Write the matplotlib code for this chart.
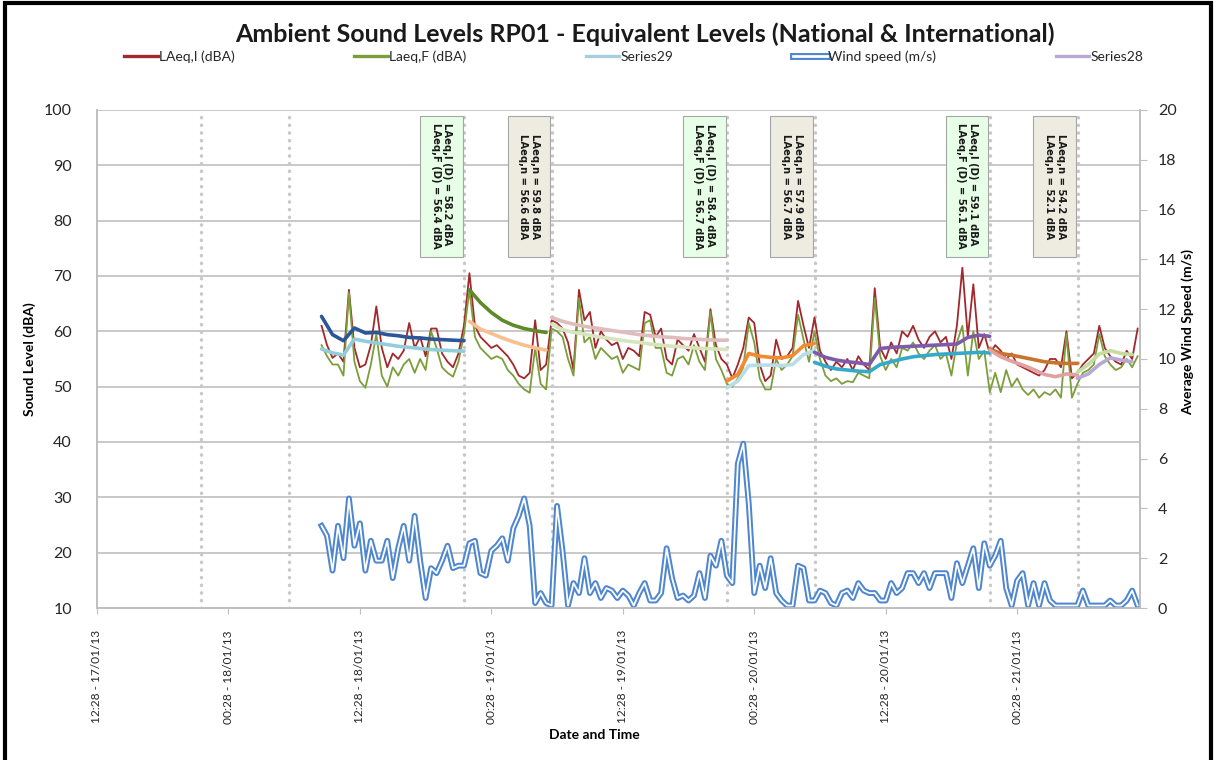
import numpy as np
import matplotlib
matplotlib.use("Agg")
import matplotlib.pyplot as plt
import matplotlib.dates as mdates
from matplotlib.patches import Rectangle
from matplotlib.lines import Line2D
from matplotlib.legend_handler import HandlerTuple
from datetime import datetime, timedelta

# ---- measurement data: 30 minute samples from 18/01/13 08:58 ----
first_sample = datetime(2013, 1, 18, 8, 58)
step = timedelta(minutes=30)

laeq_i = [
    61.0, 57.5, 55.2, 56.0, 54.5, 67.5, 57.0, 53.5, 54.0, 57.5, 64.5, 57.0, 53.5, 56.0,
    55.0, 56.5, 61.5, 57.0, 59.0, 55.5, 60.5, 60.5, 56.0, 54.5, 53.5, 56.0, 61.0,
    70.5, 61.0, 59.0, 58.0, 57.0, 57.5, 56.5, 55.5, 54.0, 52.0, 51.5, 52.5, 62.0, 53.0, 54.0,
    62.0, 61.5, 60.5, 58.0, 53.0, 67.5, 62.0, 63.5, 57.0, 60.0, 58.5, 57.5, 58.0, 55.0,
    57.0, 56.5, 55.5, 63.5, 63.0, 59.0, 60.5, 55.0, 54.0, 58.5, 57.5, 56.5, 59.5, 57.0,
    54.5, 64.0, 57.5, 55.0, 54.0,
    51.5, 54.0, 57.0, 62.5, 61.5, 54.0, 51.0, 52.0, 58.5, 55.0, 55.5, 57.0, 65.5, 61.0, 57.0, 62.5,
    56.5, 54.5, 53.0, 54.5, 53.5, 55.0, 53.0, 55.5, 54.0, 53.0, 67.8, 57.0, 55.0, 58.0,
    56.0, 60.0, 59.0, 61.0, 58.5, 57.0, 59.0, 60.0, 58.0, 59.0, 55.0, 61.0, 71.5, 59.0,
    68.5, 57.0, 59.5, 56.0,
    57.5, 56.5, 55.0, 56.0, 54.0, 53.5, 53.0, 52.5, 52.0, 53.0, 55.0, 55.0, 53.5, 60.0, 51.5, 52.5,
    54.0, 55.0, 56.0, 61.0, 57.0, 55.5, 54.5, 54.0, 56.5, 55.0, 60.5,
]
laeq_f = [
    57.5, 55.5, 54.0, 54.0, 52.0, 67.0, 54.5, 51.0, 49.8, 54.0, 59.5, 52.0, 50.0, 53.5,
    52.0, 54.0, 55.0, 52.5, 55.0, 53.0, 60.0, 57.0, 53.5, 52.5, 51.8, 54.5, 59.5,
    67.5, 59.0, 57.0, 56.0, 55.0, 55.5, 55.0, 53.0, 52.0, 50.5, 49.5, 48.9, 57.0, 50.5, 49.5,
    60.5, 60.0, 59.0, 55.0, 52.0, 66.0, 58.0, 59.0, 55.0, 57.0, 56.0, 55.0, 55.5, 52.5,
    54.0, 53.5, 53.0, 61.5, 62.0, 57.0, 57.0, 52.5, 52.0, 55.0, 55.5, 54.0, 57.5, 54.5,
    53.0, 63.5, 55.0, 53.0, 50.5,
    50.0, 51.5, 53.5, 61.5, 58.0, 51.5, 49.5, 49.5, 55.0, 53.0, 54.0, 55.5, 63.0, 58.5, 54.5, 60.0,
    55.0, 52.0, 51.0, 51.5, 50.5, 51.0, 50.8, 52.5, 52.0, 51.5, 66.0, 55.5, 53.0, 55.0,
    53.5, 57.0, 56.5, 58.0, 56.0, 55.0, 56.5, 57.5, 55.0, 56.0, 52.0, 58.0, 61.0, 52.0,
    60.0, 55.0, 56.5, 49.0,
    52.5, 49.0, 53.0, 50.0, 51.5, 49.5, 48.5, 49.5, 48.0, 49.0, 48.5, 49.5, 48.0, 59.5, 48.0, 50.5,
    52.5, 53.0, 54.0, 59.5, 55.5, 54.0, 53.0, 53.5, 55.0, 53.5, 55.5,
]
wind = [
    3.3, 2.9, 1.5, 3.3, 2.0, 4.4, 2.5, 3.4, 1.5, 2.7, 1.9, 1.9, 2.7, 1.2, 2.4, 3.3, 1.9, 3.7,
    1.9, 0.4, 1.6, 1.4, 1.9, 2.5, 1.6, 1.7, 1.7, 2.6, 2.7, 1.4, 1.3, 2.3, 2.5, 2.8, 1.9, 3.2,
    3.7, 4.4, 3.3, 0.2, 0.6, 0.2, 0.1, 4.1, 2.3, 0.1, 1.0, 0.6, 2.0, 0.6, 1.0, 0.4, 0.8, 0.7, 0.4,
    0.7, 0.5, 0.1, 0.6, 1.0, 0.3, 0.3, 0.6, 2.4, 1.2, 0.4, 0.5, 0.3, 0.5, 1.4, 0.4, 2.1, 1.7,
    2.7, 1.3, 1.0, 5.8, 6.6, 4.2, 0.6, 1.7, 0.8, 2.0, 0.6, 0.3, 0.1, 0.1, 1.7, 1.6, 0.3, 0.3,
    0.7, 0.6, 0.2, 0.1, 0.6, 0.7, 0.4, 1.0, 0.7, 0.6, 0.6, 0.3, 0.3, 1.0, 0.6, 0.8, 1.4, 1.4,
    1.0, 1.4, 0.8, 1.4, 1.4, 1.4, 0.4, 1.8, 1.0, 1.7, 2.4, 0.8, 2.6, 1.7, 2.1, 2.7, 0.8, 0.1,
    1.1, 1.4, 0.1, 1.0, 0.1, 1.0, 0.3, 0.1, 0.1, 0.1, 0.1, 0.1, 0.7, 0.1, 0.1, 0.1, 0.1, 0.3,
    0.1, 0.1, 0.3, 0.7, 0.1,
]

# ---- running equivalent levels per period (hourly), sample index where each starts ----
day1_i = [62.7, 59.4, 58.3, 60.6, 59.7, 59.8, 59.4, 59.2, 58.9, 58.8, 58.6, 58.5, 58.4, 58.3]
day1_f = [56.8, 56.1, 55.7, 58.6, 58.2, 57.9, 57.6, 57.3, 57.1, 56.9, 56.7, 56.6, 56.5, 56.4]
night1_i = [67.5, 65.2, 63.4, 62.0, 61.1, 60.5, 60.1, 59.8]
night1_f = [61.8, 60.4, 59.6, 58.8, 58.1, 57.5, 57.0, 56.6]
day2_i = [62.5, 61.8, 61.3, 60.9, 60.6, 60.3, 60.0, 59.7, 59.4, 59.2, 59.0, 58.9, 58.7,
          58.6, 58.5, 58.4, 58.4]
day2_f = [61.3, 60.3, 59.8, 59.5, 59.1, 58.8, 58.5, 58.2, 58.0, 57.7, 57.5, 57.3, 57.2,
          57.0, 56.9, 56.8, 56.7]
night2_i = [51.0, 52.2, 56.0, 55.5, 55.3, 55.2, 55.6, 57.4, 57.8]
night2_f = [49.8, 51.0, 53.8, 53.9, 53.9, 53.8, 54.0, 55.8, 56.5]
day3_i = [56.2, 55.3, 54.8, 54.5, 54.3, 54.0, 56.9, 57.1, 57.2, 57.3, 57.4, 57.5, 57.6,
          57.7, 58.9, 59.3, 59.1]
day3_f = [54.4, 53.7, 53.2, 53.0, 52.8, 52.7, 54.0, 54.5, 55.0, 55.4, 55.6, 55.8, 55.9,
          56.0, 56.1, 56.2, 56.1]
night3_i = [56.8, 56.0, 55.7, 55.3, 54.9, 54.5, 54.3, 54.2, 54.2]
night3_f = [56.6, 55.4, 54.6, 53.9, 53.1, 52.2, 51.8, 52.3, 52.1]
day4_i = [52.6, 54.0, 55.9, 56.5, 56.0, 55.8]
day4_f = [51.5, 52.3, 54.0, 55.2, 54.8, 54.5]

curve_values = [day1_i, day1_f, night1_i, night1_f, day2_i, day2_f, night2_i, night2_f,
                day3_i, day3_f, night3_i, night3_f, day4_i, day4_f]
curve_start = [0, 0, 27, 27, 42, 42, 74, 74, 90, 90, 122, 122, 138, 138]
curve_colors = ['#2b5797', '#92cddc', '#5f8a2a', '#fabf8f', '#e0bcbc', '#d7e4bd',
                '#f28a30', '#b7dde8', '#7f5aa8', '#34a9c9', '#c8742c', '#e3a0a0',
                '#c3dca0', '#b8a8d4']

# ---- period summary boxes ----
box_text = [
    'LAeq,I (D) = 58.2 dBA\nLAeq,F (D) = 56.4 dBA',
    'LAeq,n = 59.8 dBA\nLAeq,n = 56.6 dBA',
    'LAeq,I (D) = 58.4 dBA\nLAeq,F (D) = 56.7 dBA',
    'LAeq,n = 57.9 dBA\nLAeq,n = 56.7 dBA',
    'LAeq,I (D) = 59.1 dBA\nLAeq,F (D) = 56.1 dBA',
    'LAeq,n = 54.2 dBA\nLAeq,n = 52.1 dBA',
]
box_end = [datetime(2013, 1, 18, 22, 0), datetime(2013, 1, 19, 6, 0),
           datetime(2013, 1, 19, 22, 0), datetime(2013, 1, 20, 6, 0),
           datetime(2013, 1, 20, 22, 0), datetime(2013, 1, 21, 6, 0)]

# night period boundaries (22:00 and 06:00)
period_edges = [datetime(2013, 1, d, 22, 0) for d in (17, 18, 19, 20)] + \
               [datetime(2013, 1, d, 6, 0) for d in (18, 19, 20, 21)]

axis_start = datetime(2013, 1, 17, 12, 28)
axis_end = axis_start + timedelta(hours=95.2)
x_ticks = [axis_start + timedelta(hours=12 * i) for i in range(8)]

times = [first_sample + step * i for i in range(len(laeq_i))]

plt.rcParams['font.family'] = ['Lato', 'DejaVu Sans']
fig = plt.figure(figsize=(12.14, 7.6), dpi=100)
ax = fig.add_axes([0.0799, 0.2, 0.859, 0.6553])
ax2 = ax.twinx()

grid_c = '#bfbfbf'
ax.set_ylim(10, 100)
ax.set_yticks(range(10, 101, 10))
ax.set_xlim(axis_start, axis_end)
for v in range(20, 101, 10):
    ax.axhline(v, color=grid_c, lw=1.2, zorder=0)
for e in period_edges:
    ax.axvline(e, color='#c8c8c8', lw=2.4, ls=(0, (0.1, 2.2)), dash_capstyle='round', zorder=0)

ax.plot(times, laeq_i, color='#a1282c', lw=1.3, zorder=2)
ax.plot(times, laeq_f, color='#7b9e3a', lw=1.3, zorder=3)

for vals, s, c in zip(curve_values, curve_start, curve_colors):
    ct = [first_sample + step * (s + 2 * j) for j in range(len(vals))]
    ax.plot(ct, vals, color=c, lw=2.6, zorder=4, solid_capstyle='round')

# summary boxes
box_w = timedelta(hours=3.9)
for n, (txt, end) in enumerate(zip(box_text, box_end)):
    fc = '#e6ffe6' if n % 2 == 0 else '#eeece1'
    x1 = mdates.date2num(end - timedelta(hours=0.15))
    x0 = x1 - box_w / timedelta(days=1)
    ax.add_patch(Rectangle((x0, 73.4), x1 - x0, 25.6, facecolor=fc, edgecolor='#a6a6a6',
                           lw=0.8, zorder=6))
    ax.text((x0 + x1) / 2, 86.2, txt, rotation=270, ha='center', va='center',
            multialignment='left', fontsize=7.2, fontweight='bold', family='DejaVu Sans',
            color='#1a1a1a', zorder=7, linespacing=1.2)

# wind speed, drawn as a hollow double line
ax2.set_ylim(0, 20)
ax2.set_yticks(range(0, 21, 2))
ax2.plot(times, wind, color='#4f86d0', lw=4.2, zorder=2, solid_joinstyle='round')
ax2.plot(times, wind, color='white', lw=1.3, zorder=3, solid_joinstyle='round')

ax.xaxis.set_major_locator(plt.FixedLocator(mdates.date2num(x_ticks)))
ax.xaxis.set_major_formatter(mdates.DateFormatter('%H:%M - %d/%m/%y'))
ax.tick_params(axis='x', rotation=90, labelsize=8.6, length=4, color=grid_c, pad=12,
               labelcolor='#262626')
ax.tick_params(axis='y', length=0, labelsize=11.5, pad=18, labelcolor='#262626')
ax2.tick_params(axis='y', length=5, color=grid_c, labelsize=11.5, pad=8, labelcolor='#262626')

for a in (ax, ax2):
    a.spines['top'].set_visible(False)
    for side in ('left', 'bottom', 'right'):
        a.spines[side].set_color(grid_c)
        a.spines[side].set_linewidth(1.2)

ax.set_ylabel('Sound Level (dBA)', fontsize=10, fontweight='bold', labelpad=6)
fig.text(0.978, 0.563, 'Average Wind Speed (m/s)', rotation=90, ha='center', va='center',
         fontsize=10, fontweight='bold')
fig.text(0.49, 0.033, 'Date and Time', ha='center', va='center', fontsize=10,
         fontweight='bold')
fig.text(0.531, 0.955, 'Ambient Sound Levels RP01 - Equivalent Levels (National & International)',
         ha='center', va='center', fontsize=18, fontweight='bold', color='#1a1a1a')

# legend row
h_i = Line2D([], [], color='#a1282c', lw=2.4)
h_f = Line2D([], [], color='#7b9e3a', lw=2.4)
h_29 = Line2D([], [], color='#a8cde0', lw=2.4)
h_w = (Line2D([], [], color='#4f86d0', lw=5), Line2D([], [], color='white', lw=2))
h_28 = Line2D([], [], color='#b8a8d4', lw=2.4)
fig.legend([h_i, h_f, h_29, h_w, h_28],
           ['LAeq,I (dBA)', 'Laeq,F (dBA)', 'Series29', 'Wind speed (m/s)', 'Series28'],
           handler_map={tuple: HandlerTuple(ndivide=1, pad=0)},
           loc='center', ncol=5, mode='expand', bbox_to_anchor=(0.092, 0.905, 0.86, 0.04),
           frameon=False, fontsize=10, handlelength=2.4, handletextpad=0.1,
           labelcolor='#262626')

# outer frame
fig.patches.append(Rectangle((0.0045, -0.1), 0.993, 1.0955, transform=fig.transFigure,
                             fill=False, lw=3, edgecolor='black'))

fig.savefig('out.png', dpi=100)
